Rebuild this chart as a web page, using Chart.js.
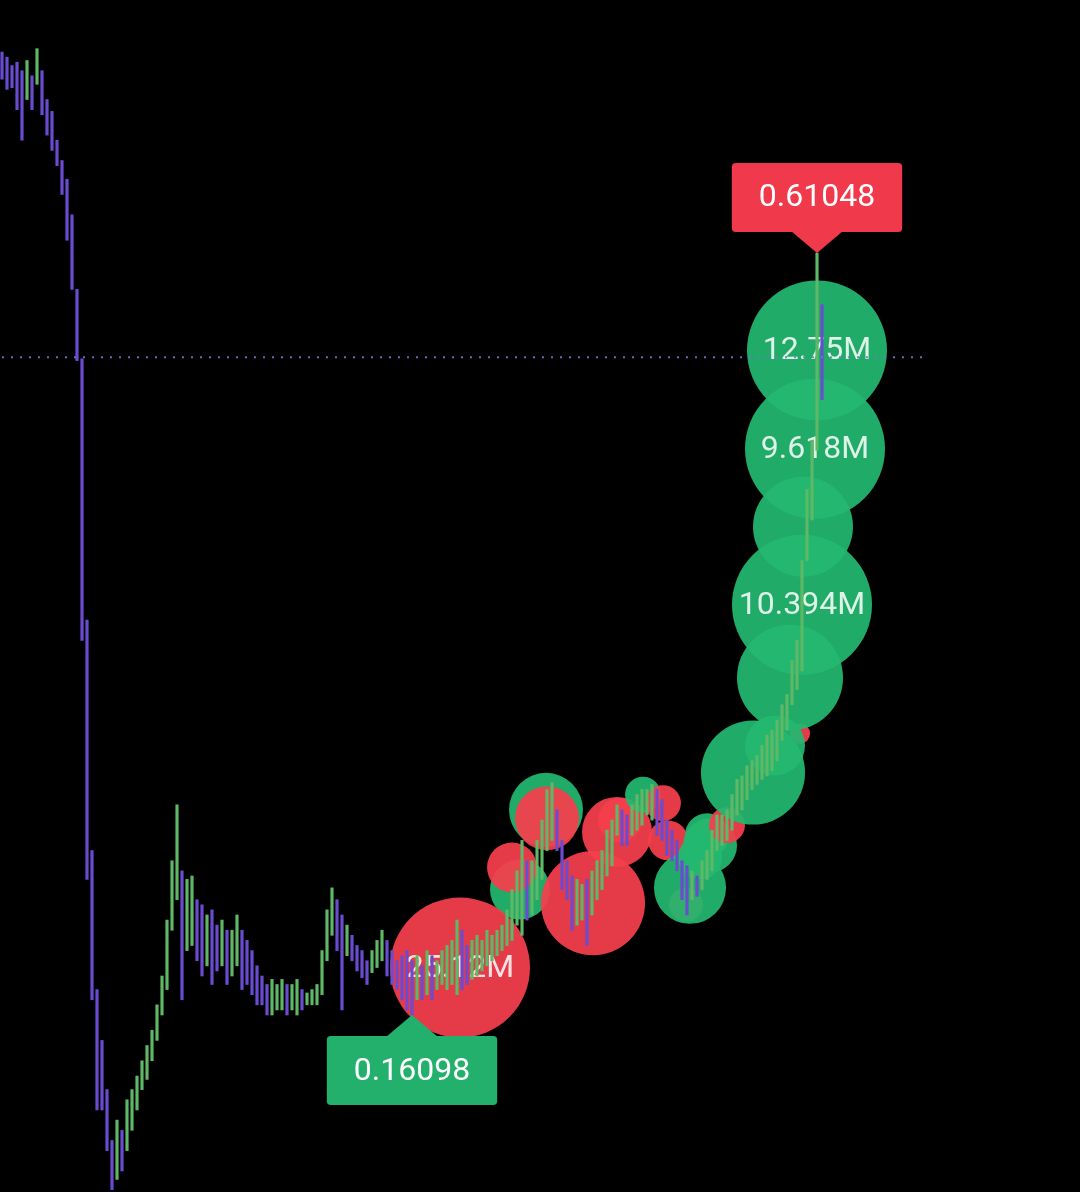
<!DOCTYPE html>
<html>
<head>
<meta charset="utf-8">
<script src="https://cdn.jsdelivr.net/npm/chart.js@4.4.1/dist/chart.umd.min.js"></script>
<style>
  html, body { margin: 0; padding: 0; background: #000; }
  #wrap { width: 1080px; height: 1192px; position: relative; }
</style>
</head>
<body>
<div id="wrap"><canvas id="priceChart"></canvas></div>
<script>
// candle ranges (high / low), one per bar in time order
const candleHigh = [
  0.729, 0.726, 0.721, 0.723, 0.718, 0.724, 0.715, 0.731, 0.718, 0.701,
  0.694, 0.677, 0.665, 0.654, 0.633, 0.589, 0.548, 0.394, 0.258, 0.176,
  0.146, 0.117, 0.087, 0.099, 0.093, 0.111, 0.117, 0.125, 0.134, 0.143,
  0.152, 0.167, 0.184, 0.217, 0.252, 0.285, 0.246, 0.241, 0.243, 0.229,
  0.226, 0.220, 0.223, 0.214, 0.217, 0.211, 0.211, 0.220, 0.211, 0.205,
  0.199, 0.190, 0.184, 0.179, 0.182, 0.179, 0.182, 0.179, 0.179, 0.182,
  0.176, 0.174, 0.176, 0.179, 0.199, 0.223, 0.236, 0.229, 0.220, 0.214,
  0.208, 0.202, 0.199, 0.193, 0.199, 0.205, 0.211, 0.205, 0.199, 0.193,
  0.196, 0.199, 0.193, 0.196, 0.190, 0.199, 0.196, 0.193, 0.199, 0.202,
  0.205, 0.217, 0.211, 0.202, 0.205, 0.208, 0.205, 0.211, 0.208, 0.211,
  0.214, 0.223, 0.235, 0.246, 0.264, 0.252, 0.252, 0.264, 0.276, 0.294,
  0.298, 0.282, 0.264, 0.252, 0.243, 0.241, 0.238, 0.241, 0.246, 0.252,
  0.258, 0.270, 0.276, 0.285, 0.282, 0.279, 0.285, 0.291, 0.294, 0.294,
  0.297, 0.294, 0.288, 0.276, 0.270, 0.264, 0.252, 0.249, 0.246, 0.243,
  0.252, 0.258, 0.270, 0.279, 0.279, 0.282, 0.291, 0.300, 0.302, 0.308,
  0.311, 0.314, 0.320, 0.326, 0.329, 0.335, 0.344, 0.350, 0.370, 0.382,
  0.429, 0.471, 0.500, 0.61048, 0.580
];
const candleLow = [
  0.713, 0.707, 0.708, 0.695, 0.677, 0.701, 0.695, 0.710, 0.692, 0.680,
  0.671, 0.662, 0.645, 0.618, 0.589, 0.547, 0.382, 0.241, 0.170, 0.105,
  0.105, 0.081, 0.058, 0.064, 0.069, 0.081, 0.093, 0.105, 0.117, 0.123,
  0.134, 0.146, 0.161, 0.176, 0.211, 0.229, 0.170, 0.199, 0.202, 0.193,
  0.184, 0.190, 0.179, 0.187, 0.190, 0.179, 0.184, 0.190, 0.176, 0.179,
  0.173, 0.167, 0.167, 0.161, 0.161, 0.164, 0.164, 0.161, 0.164, 0.161,
  0.164, 0.167, 0.167, 0.167, 0.173, 0.193, 0.208, 0.199, 0.164, 0.196,
  0.193, 0.187, 0.183, 0.179, 0.186, 0.189, 0.193, 0.184, 0.179, 0.176,
  0.170, 0.164, 0.16098, 0.170, 0.170, 0.173, 0.170, 0.176, 0.179, 0.176,
  0.179, 0.173, 0.176, 0.179, 0.182, 0.184, 0.187, 0.190, 0.193, 0.196,
  0.199, 0.202, 0.205, 0.214, 0.208, 0.217, 0.220, 0.229, 0.241, 0.258,
  0.264, 0.258, 0.235, 0.229, 0.211, 0.214, 0.217, 0.202, 0.220, 0.229,
  0.235, 0.243, 0.249, 0.267, 0.261, 0.261, 0.267, 0.270, 0.273, 0.279,
  0.276, 0.267, 0.264, 0.255, 0.252, 0.246, 0.229, 0.220, 0.229, 0.231,
  0.235, 0.241, 0.246, 0.258, 0.261, 0.264, 0.270, 0.279, 0.282, 0.288,
  0.294, 0.297, 0.300, 0.302, 0.305, 0.311, 0.323, 0.329, 0.344, 0.353,
  0.364, 0.429, 0.453, 0.494, 0.524
];

// volume bubbles: bar index, price, volume (millions), side, label
const bubbleIndex  = [103.6, 102, 118.2, 108.8, 109, 123, 123.6, 128.2, 132.2, 133.2, 136.8, 137.6, 139.6, 141.6, 141, 145, 159.6, 154.6, 150.2, 157.6, 160.2, 160, 162.6, 163, 91.6];
const bubblePrice  = [0.235, 0.248, 0.227, 0.282, 0.277, 0.269, 0.276, 0.291, 0.286, 0.264, 0.226, 0.236, 0.254, 0.261, 0.267, 0.273, 0.327, 0.320, 0.304, 0.360, 0.449, 0.403, 0.495, 0.553, 0.189];
const bubbleVolume = [1.76, 1.22, 5.3, 2.68, 2.0, 2.4, 0.95, 0.63, 0.63, 0.78, 0.57, 2.54, 0.95, 1.43, 0.95, 0.63, 0.2, 1.76, 5.3, 5.5, 4.89, 10.394, 9.618, 12.75, 25.12];
const bubbleSide   = ['buy', 'sell', 'sell', 'buy', 'sell', 'sell', 'sell', 'buy', 'sell', 'sell', 'sell', 'buy', 'buy', 'buy', 'buy', 'sell', 'sell', 'buy', 'buy', 'buy', 'buy', 'buy', 'buy', 'buy', 'sell'];
const bubbleLabels = ['', '', '', '', '', '', '', '', '', '', '', '', '', '', '', '', '', '', '', '', '', '10.394M', '9.618M', '12.75M', '25.12M'];

const maxMark = { index: 163, value: 0.61048, text: '0.61048' };
const minMark = { index: 82, value: 0.16098, text: '0.16098' };
const refLevel = 0.549;
const refLineEnd = 184;

const upColor = '#5fb865';
const downColor = '#6c4bd3';
const buyColor = 'rgba(35, 184, 112, 0.93)';
const sellColor = 'rgba(246, 62, 76, 0.93)';
const tagGreen = '#22b06c';
const tagRed = '#f0394a';

const radiusFor = v => Math.min(70, 22.6 * Math.sqrt(v));

const candleColors = candleHigh.map((h, i) => {
  if (i === 0) return downColor;
  const mid = (h + candleLow[i]) / 2;
  const prev = (candleHigh[i - 1] + candleLow[i - 1]) / 2;
  return mid >= prev ? upColor : downColor;
});

function drawTag(chart, mark, dir, color) {
  const { ctx, scales } = chart;
  const x = scales.x.getPixelForValue(mark.index);
  const y = scales.y.getPixelForValue(mark.value);
  ctx.save();
  ctx.font = '32px Roboto';
  const w = ctx.measureText(mark.text).width + 54;
  const h = 69;
  const gap = 21;
  const boxTop = dir === 'down' ? y - gap - h : y + gap;
  const baseY = dir === 'down' ? y - gap : y + gap;
  ctx.fillStyle = color;
  ctx.beginPath();
  ctx.roundRect(x - w / 2, boxTop, w, h, 4);
  ctx.fill();
  ctx.beginPath();
  ctx.moveTo(x - 26, baseY + (dir === 'down' ? -1 : 1));
  ctx.lineTo(x + 26, baseY + (dir === 'down' ? -1 : 1));
  ctx.lineTo(x, y);
  ctx.closePath();
  ctx.fill();
  ctx.fillStyle = '#fff';
  ctx.textAlign = 'center';
  ctx.textBaseline = 'middle';
  ctx.fillText(mark.text, x, boxTop + h / 2 + 1);
  ctx.restore();
}

const markerPlugin = {
  id: 'markers',
  afterDatasetDraw(chart, args) {
    if (args.meta.type !== 'bubble') return;
    const ctx = chart.ctx;
    ctx.save();
    ctx.font = '32px Roboto';
    ctx.fillStyle = 'rgba(255, 255, 255, 0.85)';
    ctx.textAlign = 'center';
    ctx.textBaseline = 'middle';
    args.meta.data.forEach((pt, i) => {
      if (bubbleLabels[i]) ctx.fillText(bubbleLabels[i], pt.x, pt.y + 1);
    });
    ctx.restore();
  },
  afterDatasetsDraw(chart) {
    drawTag(chart, maxMark, 'down', tagRed);
    drawTag(chart, minMark, 'up', tagGreen);
  }
};

const ctx = document.getElementById('priceChart').getContext('2d');

new Chart(ctx, {
  data: {
    datasets: [{
      type: 'line',
      data: [{ x: 0, y: refLevel }, { x: refLineEnd, y: refLevel }],
      borderColor: 'rgba(120, 115, 200, 0.9)',
      borderWidth: 2,
      borderDash: [2, 7],
      pointRadius: 0,
      order: 0
    }, {
      type: 'bar',
      data: candleHigh.map((h, i) => ({ x: i, y: [candleLow[i], h] })),
      backgroundColor: candleColors,
      barThickness: 2.5,
      grouped: false,
      order: 1
    }, {
      type: 'bubble',
      data: bubbleIndex.map((x, i) => ({ x: x, y: bubblePrice[i], r: radiusFor(bubbleVolume[i]) })),
      backgroundColor: bubbleSide.map(s => s === 'buy' ? buyColor : sellColor),
      borderWidth: 0,
      order: 2
    }]
  },
  options: {
    responsive: true,
    maintainAspectRatio: false,
    animation: false,
    layout: { padding: 0, autoPadding: false },
    plugins: {
      legend: { display: false },
      tooltip: { enabled: false }
    },
    scales: {
      x: { type: 'linear', display: false, offset: false, min: -0.4, max: 215.6 },
      y: { type: 'linear', display: false, min: 0.0566, max: 0.7597 }
    }
  },
  plugins: [markerPlugin]
});
</script>
</body>
</html>
